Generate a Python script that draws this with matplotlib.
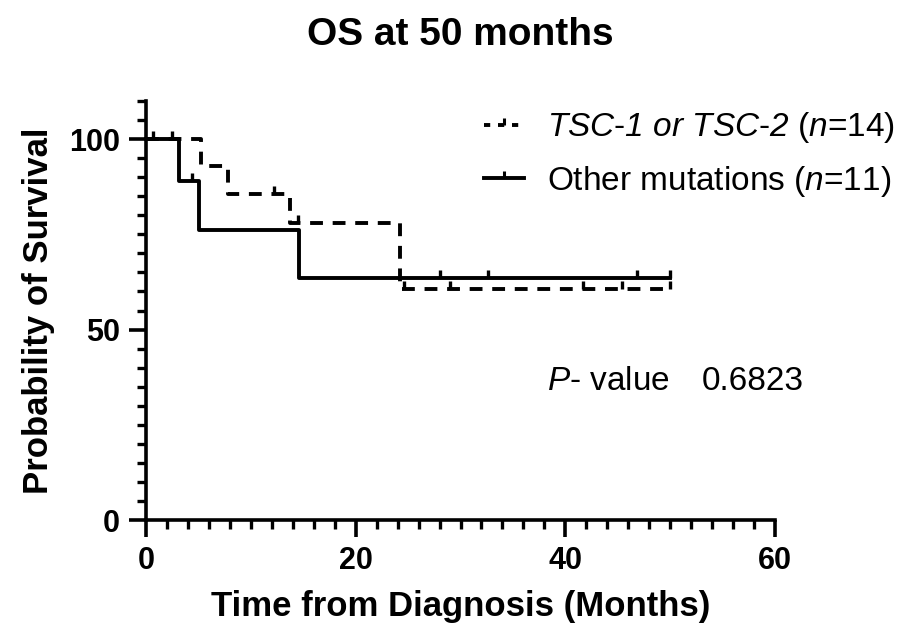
import matplotlib
matplotlib.use("Agg")
import matplotlib.pyplot as plt
import numpy as np
from matplotlib.path import Path

plt.rcParams['font.family'] = ['Liberation Sans', 'DejaVu Sans']
plt.rcParams['mathtext.fontset'] = 'custom'
plt.rcParams['mathtext.rm'] = 'Liberation Sans'
plt.rcParams['mathtext.it'] = 'Liberation Sans:italic'
plt.rcParams['mathtext.sf'] = 'Liberation Sans:italic'

# Kaplan-Meier steps (time in months, survival in %)
tsc_t = [0, 5.2, 7.8, 13.7, 24.2, 50]
tsc_s = [100, 92.9, 85.7, 77.9, 60.6, 60.6]
tsc_cens = [12.2, 14.5, 24.6, 29.0, 41.7, 45.4, 50.0]

oth_t = [0, 3.1, 5.1, 14.6, 50]
oth_s = [100, 88.9, 76.2, 63.5, 63.5]
oth_cens = [0.7, 2.5, 4.4, 28.0, 32.6, 46.8, 50.0]

p_value = "0.6823"

xticks = [0, 20, 40, 60]
yticks = [0, 50, 100]


def surv_at(times, surv, t):
    idx = np.searchsorted(times, t, side='right') - 1
    return np.array(surv)[idx]


tick_up = Path([(0, 0), (0, 1)])

fig = plt.figure(figsize=(9.07, 6.32), dpi=100)
ax = fig.add_axes([0.161, 0.1772, 0.6935, 0.663])

lw = 2.8
ax.step(tsc_t, tsc_s, where='post', color='black', lw=lw,
        linestyle=(0, (3.3, 2.5)), clip_on=False)
ax.plot(tsc_cens, surv_at(tsc_t, tsc_s, tsc_cens), linestyle='none',
        marker=tick_up, markersize=12, markeredgewidth=2.4, color='black',
        clip_on=False)
ax.step(oth_t, oth_s, where='post', color='black', lw=lw, clip_on=False)
ax.plot(oth_cens, surv_at(oth_t, oth_s, oth_cens), linestyle='none',
        marker=tick_up, markersize=12, markeredgewidth=2.4, color='black',
        clip_on=False)

# legend handles
h1, = ax.plot([], [], color='black', lw=lw, linestyle=(0, (1.6, 2)),
              marker=tick_up, markersize=10, markeredgewidth=2.2)
h2, = ax.plot([], [], color='black', lw=lw,
              marker=tick_up, markersize=10, markeredgewidth=2.2)
lab1 = r"$\mathsf{TSC}$-$\mathsf{1\ or\ TSC}$-$\mathsf{2}$ ($\it{n}$=14)"
lab2 = r"Other mutations ($\it{n}$=11)"
fig.legend([h1, h2], [lab1, lab2], loc='upper left',
           bbox_to_anchor=(0.5, 0.873), frameon=False, fontsize=24,
           handlelength=1.2, handletextpad=0.7, labelspacing=0.55,
           numpoints=1)

ax.text(0.603, 0.397, r"$\it{P}$- value", transform=fig.transFigure,
        fontsize=24, va='center')
ax.text(0.774, 0.397, p_value, transform=fig.transFigure,
        fontsize=24, va='center')

ax.set_xlim(0, 60)
ax.set_ylim(0, 110)
ax.set_xticks(xticks)
ax.set_yticks(yticks)
ax.set_xticks(np.arange(0, 61, 2), minor=True)
ax.set_yticks(np.arange(0, 111, 5), minor=True)
for s in ['top', 'right']:
    ax.spines[s].set_visible(False)
for s in ['left', 'bottom']:
    ax.spines[s].set_linewidth(2.6)
ax.tick_params(which='major', length=12, width=2.6, pad=7,
               labelsize=22)
ax.tick_params(which='minor', length=6.5, width=2.4)
for lbl in ax.get_xticklabels() + ax.get_yticklabels():
    lbl.set_fontweight('bold')

ax.set_xlabel("Time from Diagnosis (Months)", fontsize=25,
              fontweight='bold', labelpad=10)
ax.set_ylabel("Probability of Survival", fontsize=25,
              fontweight='bold', labelpad=10)
ax.set_title("OS at 50 months", fontsize=28, fontweight='bold', pad=40)

fig.savefig("out.png", dpi=100)
